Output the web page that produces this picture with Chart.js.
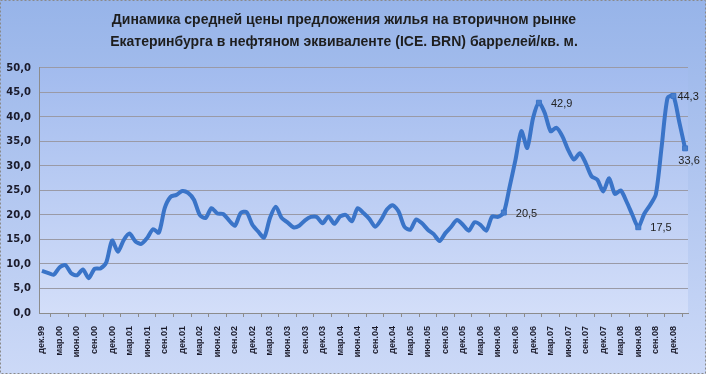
<!DOCTYPE html>
<html>
<head>
<meta charset="utf-8">
<script src="https://cdn.jsdelivr.net/npm/chart.js@4.4.1/dist/chart.umd.min.js"></script>
<style>
  html, body { margin: 0; padding: 0; background: #fff; }
  #wrap { width: 706px; height: 374px; }
</style>
</head>
<body>
<div id="wrap"><canvas id="priceChart"></canvas></div>
<script>
// month names for the category axis, from дек.99 to фев.09
const monthNames = ["янв","фев","мар","апр","май","июн","июл","авг","сен","окт","ноя","дек"];
const firstYear = 1999;
const firstMonth = 11; // дек

// barrels of Brent per sq.m, monthly
const prices = [
  8.6, 8.2, 7.8, 9.3, 9.8, 8.1, 7.7, 8.9, 7.1, 9.0, 9.1, 10.3,
  14.8, 12.5, 14.9, 16.2, 14.6, 14.1, 15.3, 17.1, 16.4, 21.4, 23.7, 24.1,
  24.9, 24.5, 23.1, 20.0, 19.4, 21.4, 20.3, 20.2, 18.9, 17.8, 20.4, 20.6,
  18.0, 16.6, 15.4, 19.4, 21.7, 19.4, 18.5, 17.5, 17.8, 18.9, 19.6, 19.6,
  18.3, 19.7, 18.2, 19.7, 20.0, 18.7, 21.4, 20.4, 19.2, 17.6, 19.0, 21.1,
  22.0, 20.7, 17.6, 17.0, 19.1, 18.3, 17.0, 16.1, 14.7, 16.3, 17.6, 19.0,
  18.0, 16.8, 18.5, 18.0, 16.8, 19.7, 19.6, 20.5, 25.8, 31.3, 37.1, 33.7,
  39.8, 42.9, 40.8, 37.1, 37.8, 36.1, 33.3, 31.3, 32.6, 30.6, 27.9, 27.2,
  24.8, 27.5, 24.3, 25.0, 22.7, 20.0, 17.5, 20.2, 22.0, 24.2, 34.0, 43.9,
  44.3, 39.0, 33.6
];

// points that carry a value label
const labelledPoints = [79, 85, 102, 108, 110];

const yTicks = [0, 5, 10, 15, 20, 25, 30, 35, 40, 45, 50];

const titleLines = [
  "Динамика средней цены предложения жилья на вторичном рынке",
  "Екатеринбурга в нефтяном эквиваленте (ICE. BRN) баррелей/кв. м."
];

const labels = prices.map((_, i) => {
  const m = firstMonth + i;
  const yy = (firstYear + Math.floor(m / 12)) % 100;
  return monthNames[m % 12] + "." + String(yy).padStart(2, "0");
});

const lineBlue = "#3a74c8";

// label offsets, keyed by point index
const labelPlace = {
  79: { dx: 12, dy: 1, align: "left" },
  85: { dx: 12, dy: 1, align: "left" },
  102: { dx: 12, dy: 1, align: "left" },
  108: { dx: 4, dy: 1, align: "left" },
  110: { dx: 4, dy: 13, align: "center" }
};

const backdrop = {
  id: "backdrop",
  beforeDraw(chart) {
    const { ctx, width, height, chartArea: a } = chart;
    ctx.save();
    let g = ctx.createLinearGradient(0, 0, 0, height);
    g.addColorStop(0, "#97b4e9");
    g.addColorStop(1, "#ccd9f7");
    ctx.fillStyle = g;
    ctx.fillRect(0, 0, width, height);
    g = ctx.createLinearGradient(0, a.top, 0, a.bottom);
    g.addColorStop(0, "#a2bbee");
    g.addColorStop(1, "#d3def9");
    ctx.fillStyle = g;
    ctx.fillRect(a.left, a.top, a.right - a.left, a.bottom - a.top);
    ctx.restore();
  },
  afterDraw(chart) {
    const { ctx, width, height } = chart;
    ctx.save();
    ctx.strokeStyle = "#8a8a8a";
    ctx.setLineDash([2, 2]);
    ctx.lineWidth = 1;
    ctx.strokeRect(0.5, 0.5, width - 1, height - 1);
    ctx.restore();
  }
};

const valueLabels = {
  id: "valueLabels",
  afterDatasetsDraw(chart) {
    const { ctx } = chart;
    const pts = chart.getDatasetMeta(0).data;
    ctx.save();
    ctx.font = "11px 'Liberation Sans', Arial, sans-serif";
    ctx.fillStyle = "#222";
    ctx.textBaseline = "middle";
    labelledPoints.forEach(i => {
      const p = labelPlace[i];
      ctx.textAlign = p.align;
      ctx.fillText(prices[i].toFixed(1).replace(".", ","), pts[i].x + p.dx, pts[i].y + p.dy);
    });
    ctx.restore();
  }
};

new Chart(document.getElementById("priceChart"), {
  type: "line",
  data: {
    labels: labels,
    datasets: [{
      data: prices,
      borderColor: lineBlue,
      backgroundColor: lineBlue,
      borderWidth: 4,
      tension: 0.25,
      pointStyle: "rect",
      pointRadius: prices.map((_, i) => labelledPoints.includes(i) ? 3.5 : 0),
      pointBackgroundColor: "#4a7fcc",
      pointBorderColor: lineBlue,
      pointBorderWidth: 1
    }]
  },
  options: {
    responsive: true,
    maintainAspectRatio: false,
    animation: false,
    layout: { padding: { left: 0, right: 18, top: 0, bottom: 0 } },
    plugins: {
      legend: { display: false },
      tooltip: { enabled: false },
      title: {
        display: true,
        text: titleLines,
        color: "#1e1e1e",
        font: { family: "'Liberation Sans', Arial, sans-serif", size: 14, weight: "bold", lineHeight: 1.57 },
        padding: { top: 9, bottom: 15 }
      }
    },
    scales: {
      x: {
        offset: true,
        afterFit: s => { s.height = 61; },
        grid: { offset: true, drawOnChartArea: false, color: "#8c8c8c", tickLength: 4 },
        border: { color: "#8c8c8c" },
        ticks: {
          autoSkip: false,
          minRotation: 90,
          maxRotation: 90,
          padding: 9,
          color: "#1a1a2a",
          font: { family: "'Liberation Sans', Arial, sans-serif", size: 9, weight: "bold" },
          callback: (v, i) => i % 3 === 0 ? labels[i] : null
        }
      },
      y: {
        min: 0,
        max: 50,
        afterFit: s => { s.width = 39; },
        afterBuildTicks: s => { s.ticks = yTicks.map(v => ({ value: v })); },
        grid: { color: "#9a9aa6", tickLength: 0 },
        border: { color: "#8c8c8c" },
        ticks: {
          padding: 8,
          color: "#1a1a2a",
          font: { family: "'DejaVu Sans', sans-serif", size: 10, weight: "bold" },
          callback: v => v.toFixed(1).replace(".", ",")
        }
      }
    }
  },
  plugins: [backdrop, valueLabels]
});
</script>
</body>
</html>
